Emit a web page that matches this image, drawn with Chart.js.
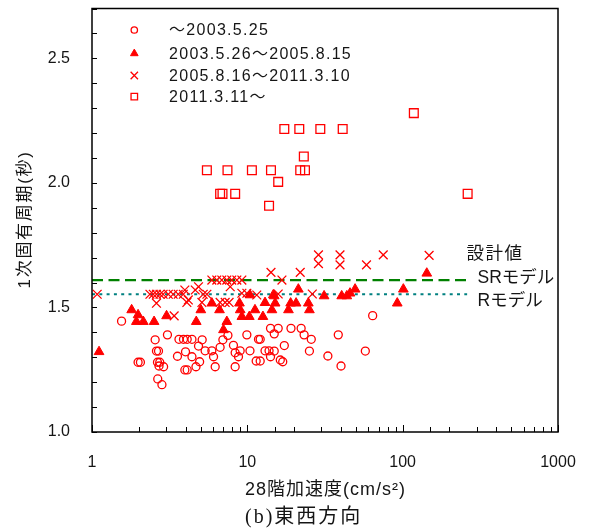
<!DOCTYPE html>
<html><head><meta charset="utf-8">
<script src="https://cdn.jsdelivr.net/npm/chart.js@4.4.1/dist/chart.umd.min.js"></script>
<style>html,body{margin:0;padding:0;background:#fff;}#wrap{width:589px;height:531px;position:relative;}</style>
</head><body><div id="wrap"><canvas id="c" width="589" height="531"></canvas></div>
<script>
// ---- data ----
const seriesLabels = ['～2003.5.25', '2003.5.26～2005.8.15', '2005.8.16～2011.3.10', '2011.3.11～'];

const circleX = [1.55,1.98,2.05,2.55,3.06,2.6,2.68,2.64,2.73,2.7,2.89,2.65,2.82,3.63,3.88,4.1,4.4,3.55,4.0,3.96,4.1,4.4,4.67,4.93,4.85,5.12,5.35,5.91,6.06,6.21,6.68,6.96,7.5,8.14,8.35,8.35,8.77,8.99,9.93,10.4,11.8,12.1,11.4,12.1,13.0,13.8,14.1,14.1,14.9,15.8,19.1,22.2,23.2,25.8,38.5,64.1,17.3,14.9,25.1,33.0,57.5,16.9,40.1,16.3];
const circleY = [1.445,1.28,1.28,1.37,1.39,1.325,1.325,1.28,1.28,1.265,1.262,1.213,1.19,1.372,1.372,1.372,1.372,1.304,1.322,1.249,1.249,1.302,1.262,1.282,1.345,1.37,1.326,1.326,1.302,1.262,1.34,1.37,1.388,1.348,1.318,1.262,1.302,1.326,1.39,1.326,1.372,1.372,1.285,1.285,1.326,1.326,1.302,1.416,1.394,1.416,1.416,1.416,1.39,1.372,1.39,1.467,1.347,1.325,1.325,1.305,1.325,1.282,1.265,1.289];

const triX = [1.11,1.80,1.98,1.93,2.14,2.51,3.02,4.69,5.02,5.91,6.62,7.38,7.02,8.9,9.0,9.22,10.4,10.3,11.2,12.6,13.0,14.4,14.7,15.1,14.9,18.4,19.0,20.6,21.3,24.7,25.1,31.2,40.5,43.7,45.8,49.4,92.3,101,143];
const triY = [1.322,1.49,1.47,1.443,1.443,1.443,1.466,1.443,1.49,1.517,1.49,1.443,1.41,1.517,1.49,1.463,1.55,1.463,1.49,1.463,1.519,1.49,1.55,1.517,1.546,1.49,1.517,1.517,1.573,1.517,1.49,1.546,1.546,1.546,1.557,1.573,1.517,1.573,1.637];

const crossX = [1.08,2.36,2.48,2.6,2.74,2.87,3.1,3.33,3.59,3.87,2.6,3.38,3.96,4.08,4.17,4.62,4.85,5.2,5.49,5.1,5.91,6.36,6.85,7.38,7.94,8.56,9.22,7.76,7.2,7.63,6.68,9.22,9.93,11.5,14.2,15.8,16.7,21.9,26.2,28.7,28.7,39.5,39.5,58.5,75,148];
const crossY = [1.553,1.553,1.553,1.553,1.553,1.553,1.553,1.553,1.553,1.553,1.517,1.466,1.57,1.52,1.53,1.57,1.583,1.553,1.553,1.52,1.61,1.61,1.61,1.61,1.61,1.61,1.61,1.583,1.52,1.52,1.52,1.557,1.557,1.55,1.641,1.554,1.61,1.641,1.554,1.711,1.676,1.711,1.671,1.671,1.711,1.709];

const squareX = [5.49,7.45,10.7,14.2,21.9,23.5,23.1,17.3,21.6,29.5,41.1,118,15.8,6.68,6.92,8.35,13.8,262];
const squareY = [2.051,2.051,2.051,2.051,2.051,2.051,2.106,2.216,2.216,2.216,2.216,2.28,2.004,1.956,1.956,1.956,1.908,1.956];

const designX = [1, 260];
const srModelY = [1.61, 1.61];
const rModelY = [1.553, 1.553];
const designLabels = ['設計値', 'SRモデル', 'Rモデル'];

const xTickLabels = [1, 10, 100, 1000];
const yTickLabels = [1.0, 1.5, 2.0, 2.5];
const xTitle = '28階加速度(cm/s²)';
const yTitle = '1次固有周期(秒)';
const caption = '(b)東西方向';

// ---- build ----
const FONT = "'Liberation Sans', 'Noto Sans CJK JP', sans-serif";
const RED = '#ff0000';
const TXT = '#151515';
const pts = (xs, ys) => xs.map((x, i) => ({x: x, y: ys[i]}));

const styles = [
  {pointStyle: 'circle', radius: 4, fill: 'rgba(0,0,0,0)', bw: 1.3, lr: 3.2},
  {pointStyle: 'triangle', radius: 5.6, fill: RED, bw: 1, lr: 4.4},
  {pointStyle: 'crossRot', radius: 6.2, fill: 'rgba(0,0,0,0)', bw: 1.3, lr: 5.2},
  {pointStyle: 'rect', radius: 6.2, fill: 'rgba(0,0,0,0)', bw: 1.3, lr: 4.6}
];
const seriesData = [pts(circleX, circleY), pts(triX, triY), pts(crossX, crossY), pts(squareX, squareY)];

const datasets = seriesData.map((d, i) => ({
  type: 'scatter', label: seriesLabels[i], data: d, order: 1,
  pointStyle: styles[i].pointStyle, pointRadius: styles[i].radius,
  backgroundColor: styles[i].fill, borderColor: RED, borderWidth: styles[i].bw,
  pointBorderWidth: styles[i].bw
}));
datasets.push({
  type: 'line', label: designLabels[1], data: pts(designX, srModelY), order: 10,
  borderColor: '#008000', borderWidth: 2.2, borderDash: [11, 5.5], pointRadius: 0, fill: false
});
datasets.push({
  type: 'line', label: designLabels[2], data: pts(designX, rModelY), order: 10,
  borderColor: '#008080', borderWidth: 2.2, borderDash: [3, 4.3], pointRadius: 0, fill: false
});

function drawMarker(ctx, st, x, y, r) {
  ctx.save();
  ctx.strokeStyle = RED; ctx.fillStyle = st.fill; ctx.lineWidth = st.bw;
  if (Chart.helpers && Chart.helpers.drawPoint) {
    Chart.helpers.drawPoint(ctx, {pointStyle: st.pointStyle, rotation: 0, radius: r, borderWidth: st.bw}, x, y);
  }
  ctx.restore();
}

function spacedText(ctx, text, x, y, spacing) {
  if ('letterSpacing' in ctx) {
    ctx.letterSpacing = spacing + 'px';
    ctx.fillText(text, x, y);
    ctx.letterSpacing = '0px';
  } else {
    let cx = x;
    for (const ch of text) { ctx.fillText(ch, cx, y); cx += ctx.measureText(ch).width + spacing; }
  }
}
function spacedWidth(ctx, text, spacing) {
  let w = 0;
  for (const ch of text) w += ctx.measureText(ch).width + spacing;
  return w - spacing;
}

const decor = {
  id: 'decor',
  afterDraw(chart) {
    const ctx = chart.ctx, a = chart.chartArea, xs = chart.scales.x, ys = chart.scales.y;
    ctx.save();
    // frame
    ctx.strokeStyle = '#000'; ctx.lineWidth = 1.5;
    ctx.strokeRect(a.left, a.top, a.right - a.left, a.bottom - a.top);
    // inward ticks
    ctx.lineWidth = 1;
    ys.ticks.forEach(t => {
      const py = Math.round(ys.getPixelForValue(t.value)) + 0.5;
      ctx.beginPath(); ctx.moveTo(a.left, py); ctx.lineTo(a.left + 5, py); ctx.stroke();
    });
    xs.ticks.forEach(t => {
      const px = Math.round(xs.getPixelForValue(t.value)) + 0.5;
      const lg = Math.log10(t.value);
      const major = Math.abs(lg - Math.round(lg)) < 1e-9;
      const len = major ? 7 : 5;
      ctx.beginPath(); ctx.moveTo(px, a.bottom); ctx.lineTo(px, a.bottom - len); ctx.stroke();
    });
    // legend
    const rowsY = [30, 53.5, 75.5, 96.7];
    ctx.font = '16px ' + FONT; ctx.textBaseline = 'middle'; ctx.textAlign = 'left';
    seriesLabels.forEach((lab, i) => {
      drawMarker(ctx, styles[i], 134.3, rowsY[i], styles[i].lr);
      ctx.fillStyle = TXT;
      spacedText(ctx, lab, 169, rowsY[i] + 1, 1.3);
    });
    // design labels
    ctx.font = '17.5px ' + FONT; ctx.fillStyle = TXT;
    spacedText(ctx, designLabels[0], 466.5, 254, 1.5);
    spacedText(ctx, designLabels[1], 477.5, 278.5, 0);
    spacedText(ctx, designLabels[2], 477.5, 301.5, 0);
    // x axis title
    ctx.font = '18px ' + FONT;
    const xw = spacedWidth(ctx, xTitle, 1);
    spacedText(ctx, xTitle, (a.left + a.right) / 2 - xw / 2, 490, 1);
    // y axis title (rotated)
    ctx.save();
    ctx.translate(25, (a.top + a.bottom) / 2);
    ctx.rotate(-Math.PI / 2);
    ctx.font = '17px ' + FONT;
    const yw = spacedWidth(ctx, yTitle, 1.7);
    spacedText(ctx, yTitle, -yw / 2, 0, 1.7);
    ctx.restore();
    // caption
    ctx.font = "20px 'Liberation Serif', 'Noto Sans CJK JP', serif";
    ctx.fillStyle = TXT;
    spacedText(ctx, caption, 245, 518, 2);
    ctx.restore();
  }
};

const near = (v, arr) => arr.some(t => Math.abs(t - v) < 1e-6);

new Chart(document.getElementById('c'), {
  data: {datasets: datasets},
  options: {
    responsive: false, animation: false,
    layout: {padding: {top: 8.5, right: 31, left: 0, bottom: 0}},
    plugins: {legend: {display: false}, tooltip: {enabled: false}},
    scales: {
      x: {
        type: 'logarithmic', min: 1, max: 1000, position: 'bottom',
        grid: {display: false, drawTicks: false}, border: {display: false},
        ticks: {autoSkip: false, maxRotation: 0, padding: 21, color: TXT, font: {family: FONT, size: 16},
          callback: v => near(v, xTickLabels) ? String(v) : ''},
        afterFit: s => { s.height = 99; s.paddingLeft = 0; s.paddingRight = 0; }
      },
      y: {
        type: 'linear', min: 1.0, max: 2.7, position: 'left',
        grid: {display: false, drawTicks: false}, border: {display: false},
        ticks: {stepSize: 0.1, autoSkip: false, padding: 22, color: TXT, font: {family: FONT, size: 16},
          callback: v => near(v, yTickLabels) ? v.toFixed(1) : ''},
        afterFit: s => { s.width = 92; s.paddingTop = 0; s.paddingBottom = 0; }
      }
    }
  },
  plugins: [decor]
});
</script></body></html>
